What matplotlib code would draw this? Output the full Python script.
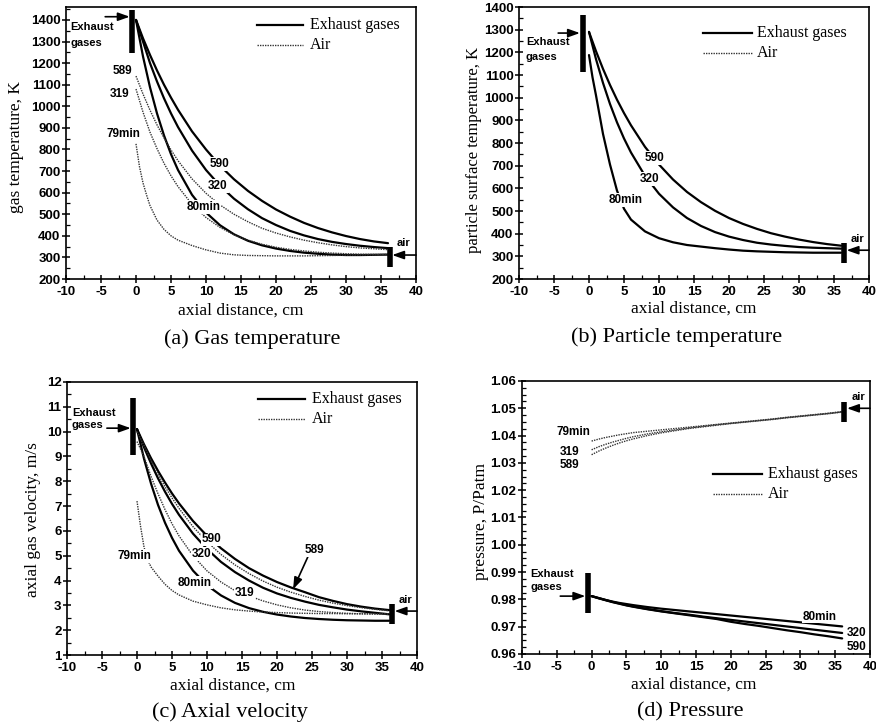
import matplotlib
matplotlib.use("Agg")
import matplotlib.pyplot as plt
from matplotlib.ticker import MultipleLocator, FormatStrFormatter

plt.rcParams["axes.unicode_minus"] = False

# ---------------- data ----------------
xg = [0, 1, 2, 3, 4, 5, 6, 8, 10, 12, 14, 16, 18, 20, 22, 24, 26, 28, 30, 32, 34, 36]
x_fine = [0, 0.5, 1, 1.5, 2, 3, 4, 5, 6, 8, 10, 12, 14, 16, 18, 20, 22, 24, 26, 28, 30, 32, 34, 36]
x_b80 = [0, 0.5, 1, 2, 3, 4, 5, 6, 8, 10, 12, 14, 16, 18, 20, 22, 24, 26, 28, 30, 32, 34, 36]

# (a) gas temperature, K
a_exh_590 = [1400, 1315, 1238, 1166, 1100, 1040, 984, 884, 800, 725, 662, 608, 562, 522, 489, 460, 436, 416, 399, 385, 374, 366]
a_exh_320 = [1400, 1300, 1200, 1115, 1037, 967, 904, 795, 705, 632, 572, 523, 482, 450, 423, 402, 385, 372, 362, 354, 348, 343]
a_exh_80 = [1400, 1231, 1088, 967, 865, 778, 705, 590, 508, 449, 407, 377, 356, 341, 330, 322, 317, 313, 311, 311, 312, 313]
a_air_589 = [1140, 1057, 982, 914, 854, 798, 748, 664, 597, 543, 500, 465, 435, 413, 395, 380, 368, 358, 350, 344, 340, 336]
a_air_319 = [1080, 973, 880, 804, 736, 678, 628, 546, 485, 439, 405, 380, 361, 347, 337, 330, 324, 320, 317, 315, 314, 313]
a_air_79 = [826, 720, 645, 590, 540, 473, 430, 400, 380, 355, 335, 320, 312, 309, 308, 307, 307, 307, 308, 309, 310, 311, 312, 314]

# (b) particle surface temperature, K
b_exh_590 = [1290, 1205, 1127, 1056, 991, 932, 878, 783, 705, 639, 584, 539, 501, 469, 443, 421, 402, 387, 374, 363, 354, 347]
b_exh_320 = [1290, 1170, 1065, 972, 891, 820, 758, 655, 576, 516, 469, 434, 407, 387, 372, 360, 352, 346, 341, 338, 336, 334]
b_exh_80 = [1188, 1090, 1010, 840, 705, 590, 510, 462, 410, 380, 362, 350, 343, 336, 330, 325, 322, 320, 318, 317, 316, 316, 316]

# (c) axial gas velocity, m/s
c_exh_590 = [10.1, 9.49, 8.93, 8.42, 7.95, 7.51, 7.11, 6.40, 5.80, 5.30, 4.87, 4.50, 4.20, 3.94, 3.72, 3.53, 3.33, 3.18, 3.05, 2.95, 2.87, 2.81]
c_exh_320 = [10.1, 9.37, 8.72, 8.12, 7.58, 7.09, 6.65, 5.89, 5.27, 4.75, 4.34, 4.00, 3.71, 3.48, 3.30, 3.15, 3.02, 2.92, 2.83, 2.76, 2.70, 2.64]
c_exh_80 = [10.1, 8.91, 7.91, 7.05, 6.33, 5.72, 5.20, 4.40, 3.81, 3.40, 3.10, 2.89, 2.74, 2.63, 2.55, 2.49, 2.45, 2.42, 2.40, 2.39, 2.38, 2.38]
c_air_589 = [10.0, 9.44, 8.84, 8.28, 7.78, 7.33, 6.91, 6.17, 5.56, 5.05, 4.63, 4.28, 3.98, 3.73, 3.53, 3.36, 3.21, 3.09, 2.99, 2.91, 2.84, 2.78]
c_air_319 = [9.6, 9.0, 8.2, 7.5, 6.86, 6.29, 5.80, 5.00, 4.39, 3.94, 3.59, 3.38, 3.18, 3.02, 2.90, 2.81, 2.75, 2.71, 2.68, 2.66, 2.65, 2.65]
c_air_79 = [7.2, 6.2, 5.35, 4.85, 4.55, 4.18, 3.85, 3.6, 3.42, 3.17, 3.02, 2.9, 2.82, 2.77, 2.73, 2.71, 2.69, 2.68, 2.67, 2.67, 2.66, 2.66, 2.66, 2.66]

# (d) pressure, P/Patm
d_exh_80 = [0.9812, 0.9805, 0.9798, 0.9792, 0.9787, 0.9783, 0.9779, 0.9772, 0.9766, 0.9761, 0.9756, 0.9751, 0.9746, 0.9741, 0.9736, 0.9731, 0.9726, 0.9721, 0.9716, 0.9711, 0.9706, 0.9701]
d_exh_320 = [0.9812, 0.9805, 0.9798, 0.9791, 0.9785, 0.9779, 0.9774, 0.9765, 0.9757, 0.9750, 0.9744, 0.9737, 0.9731, 0.9725, 0.9719, 0.9713, 0.9707, 0.9701, 0.9695, 0.9689, 0.9683, 0.9677]
d_exh_590 = [0.9812, 0.9804, 0.9797, 0.9790, 0.9784, 0.9778, 0.9773, 0.9764, 0.9756, 0.9749, 0.9742, 0.9735, 0.9728, 0.9718, 0.9710, 0.9703, 0.9695, 0.9687, 0.9680, 0.9672, 0.9665, 0.9657]
d_air_79 = [1.0380, 1.0387, 1.0393, 1.0398, 1.0403, 1.0407, 1.0411, 1.0416, 1.0421, 1.0426, 1.0431, 1.0436, 1.0441, 1.0446, 1.0451, 1.0456, 1.0461, 1.0467, 1.0472, 1.0477, 1.0482, 1.0488]
d_air_319 = [1.0348, 1.0359, 1.0368, 1.0376, 1.0383, 1.0390, 1.0396, 1.0406, 1.0414, 1.0421, 1.0428, 1.0434, 1.0440, 1.0445, 1.0450, 1.0455, 1.0460, 1.0466, 1.0471, 1.0476, 1.0481, 1.0487]
d_air_589 = [1.0330, 1.0343, 1.0354, 1.0364, 1.0373, 1.0381, 1.0388, 1.0400, 1.0410, 1.0418, 1.0426, 1.0432, 1.0438, 1.0444, 1.0449, 1.0454, 1.0459, 1.0465, 1.0470, 1.0475, 1.0480, 1.0486]

# ---------------- style ----------------
W, H = 876, 727
fig = plt.figure(figsize=(W / 100, H / 100), dpi=100)

SANS = ["Liberation Sans", "DejaVu Sans"]
SERIF = ["Liberation Serif", "DejaVu Serif"]
EXH = dict(color="black", lw=1.6, solid_capstyle="round", zorder=3)
AIR = dict(color="#333333", lw=1.0, linestyle=(0, (1, 0.8)), zorder=3)
LBL = dict(family=SANS, fontweight="bold", fontsize=8.5, ha="center", va="center", zorder=6,
           bbox=dict(facecolor="white", edgecolor="none", pad=0.6))


def px_axes(l, t, r, b):
    return fig.add_axes([l / W, 1 - b / H, (r - l) / W, (b - t) / H])


def style(ax, ylim, ymaj, ymin, fmt=None):
    ax.set_xlim(-10, 40)
    ax.set_ylim(*ylim)
    ax.xaxis.set_major_locator(MultipleLocator(5))
    ax.xaxis.set_minor_locator(MultipleLocator(2.5))
    ax.yaxis.set_major_locator(MultipleLocator(ymaj))
    ax.yaxis.set_minor_locator(MultipleLocator(ymin))
    if fmt:
        ax.yaxis.set_major_formatter(FormatStrFormatter(fmt))
    ax.tick_params(which="major", direction="inout", length=6, width=1.1, pad=2)
    ax.tick_params(axis="y", which="major", pad=1)
    ax.tick_params(which="minor", direction="in", length=3, width=0.9)
    for lab in ax.get_xticklabels() + ax.get_yticklabels():
        lab.set_family(SANS)
        lab.set_fontweight("bold")
        lab.set_fontsize(9.5)
    for s in ax.spines.values():
        s.set_linewidth(1.2)


def legend(ax, x0, x1, xt, y1, y2):
    ax.plot([x0, x1], [y1, y1], transform=ax.transAxes, color="black", lw=1.6)
    ax.plot([x0, x1], [y2, y2], transform=ax.transAxes, color="#333333", lw=1.0, linestyle=(0, (1, 0.8)))
    ax.text(xt, y1, "Exhaust gases", transform=ax.transAxes, family=SERIF, fontsize=11.5, va="center")
    ax.text(xt, y2, "Air", transform=ax.transAxes, family=SERIF, fontsize=11.5, va="center")


def inlet_bar(ax, x, y0, y1):
    ax.plot([x, x], [y0, y1], color="black", lw=4, solid_capstyle="butt", zorder=5)


def arrow(ax, x0, y0, x1, y1):
    ax.annotate("", xy=(x1, y1), xytext=(x0, y0), zorder=5, annotation_clip=False,
                arrowprops=dict(arrowstyle="-|>,head_length=0.7,head_width=0.25", color="black", lw=1.2,
                                shrinkA=0, shrinkB=0))


def small(ax, x, y, s, ha="left"):
    ax.text(x, y, s, family=SANS, fontweight="bold", fontsize=8, ha=ha, va="center", zorder=6)


def figtext(x, y, s, **kw):
    fig.text(x / W, 1 - y / H, s, ha="center", va="center", **kw)


# ---------------- (a) ----------------
ax = px_axes(66, 7, 416, 279)
ax.plot(xg, a_exh_590, **EXH)
ax.plot(xg, a_exh_320, **EXH)
ax.plot(xg, a_exh_80, **EXH)
ax.plot(xg, a_air_589, **AIR)
ax.plot(xg, a_air_319, **AIR)
ax.plot(x_fine, a_air_79, **AIR)
style(ax, (200, 1460), 100, 50)
legend(ax, 0.546, 0.677, 0.697, 0.934, 0.860)
inlet_bar(ax, -0.6, 1248, 1445)
arrow(ax, -4.4, 1415, -0.9, 1415)
small(ax, -9.4, 1367, "Exhaust")
small(ax, -9.4, 1295, "gases")
inlet_bar(ax, 36.3, 255, 348)
arrow(ax, 40.0, 311, 36.6, 311)
small(ax, 38.2, 367, "air", ha="center")
ax.text(-2.0, 1165, "589", **LBL)
ax.text(-2.4, 1057, "319", **LBL)
ax.text(-1.8, 870, "79min", **LBL)
ax.text(12.0, 733, "590", **LBL)
ax.text(11.7, 631, "320", **LBL)
ax.text(9.6, 533, "80min", **LBL)
figtext(16, 147, "gas temperature, K", rotation=90, family=SERIF, fontsize=12.5)
figtext(241, 311, "axial distance, cm", family=SERIF, fontsize=12.5)
figtext(252, 339, "(a) Gas temperature", family=SERIF, fontsize=16)

# ---------------- (b) ----------------
ax = px_axes(519, 7, 869, 279)
ax.plot(xg, b_exh_590, **EXH)
ax.plot(xg, b_exh_320, **EXH)
ax.plot(x_b80, b_exh_80, **EXH)
style(ax, (200, 1400), 100, 50)
legend(ax, 0.526, 0.666, 0.68, 0.904, 0.831)
inlet_bar(ax, -0.86, 1113, 1365)
arrow(ax, -4.4, 1285, -1.3, 1285)
small(ax, -9.0, 1245, "Exhaust")
small(ax, -9.0, 1180, "gases")
inlet_bar(ax, 36.4, 271, 359)
arrow(ax, 40.0, 327, 36.8, 327)
small(ax, 38.4, 377, "air", ha="center")
ax.text(9.4, 733, "590", **LBL)
ax.text(8.6, 642, "320", **LBL)
ax.text(5.2, 548, "80min", **LBL)
figtext(474, 150, "particle surface temperature, K", rotation=90, family=SERIF, fontsize=12)
figtext(694, 309, "axial distance, cm", family=SERIF, fontsize=12.5)
figtext(677, 337, "(b) Particle temperature", family=SERIF, fontsize=16)

# ---------------- (c) ----------------
ax = px_axes(67, 382, 417, 655)
ax.plot(xg, c_exh_590, **EXH)
ax.plot(xg, c_exh_320, **EXH)
ax.plot(xg, c_exh_80, **EXH)
ax.plot(xg, c_air_589, **AIR)
ax.plot(xg, c_air_319, **AIR)
ax.plot(x_fine, c_air_79, **AIR)
style(ax, (1, 12), 1, 0.5)
legend(ax, 0.546, 0.680, 0.700, 0.938, 0.864)
inlet_bar(ax, -0.6, 9.06, 11.36)
arrow(ax, -4.3, 10.14, -0.9, 10.14)
small(ax, -9.3, 10.75, "Exhaust")
small(ax, -9.3, 10.25, "gases")
inlet_bar(ax, 36.4, 2.25, 3.05)
arrow(ax, 40.0, 2.77, 36.8, 2.77)
small(ax, 38.3, 3.22, "air", ha="center")
ax.text(10.7, 5.66, "590", **LBL)
ax.text(9.2, 5.07, "320", **LBL)
ax.text(8.3, 3.92, "80min", **LBL)
ax.text(-0.3, 4.99, "79min", **LBL)
ax.text(15.4, 3.5, "319", **LBL)
ax.text(25.3, 5.23, "589", **LBL)
arrow(ax, 24.4, 4.95, 22.3, 3.65)
figtext(33, 520, "axial gas velocity, m/s", rotation=90, family=SERIF, fontsize=12.5)
figtext(233, 686, "axial distance, cm", family=SERIF, fontsize=12.5)
figtext(230, 712, "(c) Axial velocity", family=SERIF, fontsize=16)

# ---------------- (d) ----------------
ax = px_axes(522, 381, 870, 654)
ax.plot(xg, d_exh_80, **EXH)
ax.plot(xg, d_exh_320, **EXH)
ax.plot(xg, d_exh_590, **EXH)
ax.plot(xg, d_air_79, **AIR)
ax.plot(xg, d_air_319, **AIR)
ax.plot(xg, d_air_589, **AIR)
style(ax, (0.96, 1.06), 0.01, 0.0025, fmt="%.2f")
legend(ax, 0.549, 0.690, 0.707, 0.659, 0.586)
inlet_bar(ax, -0.56, 0.9749, 0.9896)
arrow(ax, -4.5, 0.9812, -0.9, 0.9812)
small(ax, -8.85, 0.9893, "Exhaust")
small(ax, -8.85, 0.9844, "gases")
inlet_bar(ax, 36.3, 1.0451, 1.0524)
arrow(ax, 40.0, 1.0500, 36.7, 1.0500)
small(ax, 38.3, 1.0540, "air", ha="center")
ax.text(-2.6, 1.0414, "79min", **LBL)
ax.text(-3.2, 1.0341, "319", **LBL)
ax.text(-3.2, 1.0292, "589", **LBL)
ax.text(32.8, 0.9737, "80min", **LBL)
ax.text(38.0, 0.9676, "320", **LBL)
ax.text(38.0, 0.9627, "590", **LBL)
figtext(481, 521, "pressure, P/Patm", rotation=90, family=SERIF, fontsize=12.5)
figtext(694, 685, "axial distance, cm", family=SERIF, fontsize=12.5)
figtext(690, 712, "(d) Pressure", family=SERIF, fontsize=16)

fig.savefig("out.png", dpi=100)
